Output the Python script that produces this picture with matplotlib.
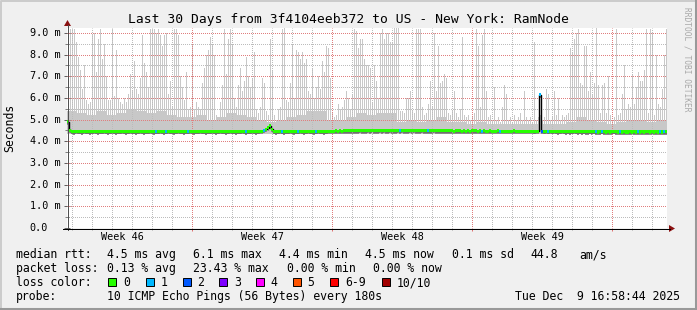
import matplotlib
matplotlib.use("Agg")
import matplotlib.pyplot as plt
from matplotlib.transforms import Affine2D, blended_transform_factory
from matplotlib.patches import Rectangle, Polygon
from matplotlib.lines import Line2D
import numpy as np

# ---------------- data ----------------
title = "Last 30 Days from 3f4104eeb372 to US - New York: RamNode"
week_labels = ["Week 46", "Week 47", "Week 48", "Week 49"]
week_label_days = [2.75, 9.75, 16.75, 23.75]
week_start_days = [6.25, 13.25, 20.25, 27.25]
day_lines = [0.25, 1.25, 2.25, 3.25, 4.25, 5.25, 6.25, 7.25, 8.25, 9.25,
             10.25, 11.25, 12.25, 13.25, 14.25, 15.25, 16.25, 17.25, 18.25, 19.25,
             20.25, 21.25, 22.25, 23.25, 24.25, 25.25, 26.25, 27.25, 28.25, 29.25]
y_major = [0, 1, 2, 3, 4, 5, 6, 7, 8, 9]
y_minor = [0.5, 1.5, 2.5, 3.5, 4.5, 5.5, 6.5, 7.5, 8.5]
y_tick_labels = ["0.0", "1.0 m", "2.0 m", "3.0 m", "4.0 m", "5.0 m",
                 "6.0 m", "7.0 m", "8.0 m", "9.0 m"]

# max ping (ms) per 2.4 h column (300 columns over 30 days)
smoke_max = [
    6.5, 9.2, 9.2, 9.2, 8.6, 7.9, 7.3, 6.4, 7.5, 5.9,
    5.7, 5.8, 8.9, 9.0, 7.2, 8.7, 9.2, 7.8, 8.5, 7.0,
    5.9, 5.9, 9.2, 6.1, 8.2, 6.0, 5.8, 5.7, 6.0, 5.8,
    6.2, 7.1, 6.3, 7.7, 6.4, 6.2, 6.9, 8.9, 7.6, 7.2,
    6.5, 9.2, 9.2, 9.2, 9.0, 9.2, 8.9, 8.4, 8.9, 9.0,
    6.2, 6.8, 5.6, 9.2, 9.2, 8.9, 7.0, 6.5, 5.9, 7.2,
    5.5, 5.6, 8.5, 5.5, 5.8, 5.6, 5.5, 6.7, 7.4, 8.0,
    8.2, 8.8, 8.5, 8.0, 5.2, 5.0, 5.8, 6.6, 9.2, 7.1,
    8.7, 9.2, 8.5, 6.0, 5.6, 6.6, 7.4, 6.3, 6.8, 7.9,
    7.0, 6.5, 6.9, 8.1, 5.5, 5.3, 5.6, 6.9, 6.7, 5.4,
    5.2, 8.7, 7.3, 5.2, 5.0, 5.5, 5.6, 9.2, 9.3, 5.9,
    5.8, 6.7, 8.5, 6.0, 8.2, 8.1, 7.8, 8.1, 7.6, 7.8,
    6.3, 6.2, 7.4, 6.0, 6.5, 7.0, 6.4, 7.7, 7.2, 8.4,
    8.3, 6.9, 5.3, 5.1, 5.2, 5.7, 5.5, 5.6, 5.9, 6.3,
    6.0, 5.5, 6.2, 9.2, 9.1, 8.3, 8.7, 8.7, 7.8, 7.5,
    7.5, 7.4, 5.8, 7.5, 6.8, 6.0, 9.0, 9.2, 8.7, 9.0,
    9.0, 8.6, 8.6, 9.3, 9.3, 9.3, 5.4, 5.4, 5.3, 6.0,
    6.0, 6.3, 5.4, 5.3, 9.2, 9.2, 9.2, 5.6, 5.2, 5.3,
    5.7, 6.8, 5.6, 9.0, 6.3, 8.4, 6.7, 6.8, 7.1, 6.9,
    5.3, 5.2, 5.4, 6.3, 5.3, 5.1, 5.5, 8.8, 5.2, 5.1,
    5.2, 5.0, 5.1, 5.3, 9.2, 8.4, 5.6, 8.9, 9.2, 6.3,
    5.1, 5.2, 5.0, 6.5, 5.0, 5.1, 4.9, 5.6, 6.6, 6.2,
    5.0, 5.1, 4.9, 5.2, 5.0, 5.1, 5.3, 5.0, 6.3, 5.1,
    5.0, 5.1, 4.9, 8.6, 5.0, 5.1, 5.2, 5.0, 5.1, 6.4,
    6.2, 5.0, 5.1, 6.3, 5.2, 6.0, 5.0, 5.2, 5.1, 5.2,
    5.3, 8.3, 8.1, 8.7, 9.0, 9.2, 6.7, 6.6, 8.4, 8.4,
    6.3, 7.2, 6.2, 6.7, 9.3, 6.6, 5.3, 6.6, 6.7, 5.3,
    7.0, 5.2, 5.0, 5.1, 9.2, 5.2, 5.3, 6.2, 7.5, 5.5,
    5.7, 5.6, 7.1, 5.7, 6.5, 7.2, 6.8, 6.8, 7.3, 9.2,
    5.3, 9.2, 9.0, 5.2, 8.0, 5.7, 5.6, 6.4, 8.0, 9.2,
]

# dense smoke level (ms) per half day (60 values)
smoke_base = [
    5.4, 5.3, 5.2, 5.4, 5.2, 5.3, 5.5, 5.4, 5.3, 5.4,
    5.2, 5.1, 5.1, 5.2, 5.0, 5.1, 5.3, 5.2, 5.1, 5.0,
    4.9, 5.0, 5.1, 5.2, 5.4, 5.4, 5.0, 5.0, 5.1, 5.3,
    5.2, 5.3, 5.3, 4.9, 5.0, 4.9, 5.0, 5.1, 4.9, 4.9,
    4.8, 4.9, 4.8, 4.8, 4.8, 4.8, 4.8, 4.8, 4.8, 4.8,
    4.9, 5.1, 5.0, 4.9, 4.8, 4.9, 5.0, 5.0, 4.9, 5.0,
]
smoke_floor = 4.35

# median rtt (ms) per column
median = [
    4.90, 4.50, 4.45, 4.44, 4.46, 4.45, 4.45, 4.44, 4.46, 4.45,
    4.45, 4.44, 4.45, 4.46, 4.45, 4.44, 4.45, 4.45, 4.46, 4.45,
    4.44, 4.45, 4.46, 4.45, 4.44, 4.45, 4.45, 4.46, 4.45, 4.44,
    4.45, 4.46, 4.45, 4.45, 4.44, 4.45, 4.46, 4.45, 4.44, 4.45,
    4.45, 4.46, 4.45, 4.44, 4.45, 4.45, 4.46, 4.45, 4.44, 4.45,
    4.46, 4.45, 4.45, 4.44, 4.45, 4.46, 4.45, 4.45, 4.44, 4.45,
    4.45, 4.46, 4.45, 4.44, 4.45, 4.45, 4.46, 4.45, 4.45, 4.44,
    4.45, 4.45, 4.46, 4.45, 4.44, 4.45, 4.46, 4.45, 4.45, 4.44,
    4.45, 4.46, 4.45, 4.45, 4.44, 4.45, 4.45, 4.46, 4.45, 4.44,
    4.45, 4.45, 4.46, 4.45, 4.44, 4.45, 4.46, 4.47, 4.50, 4.55,
    4.62, 4.72, 4.55, 4.45, 4.44, 4.45, 4.46, 4.45, 4.44, 4.45,
    4.45, 4.46, 4.45, 4.44, 4.45, 4.45, 4.46, 4.45, 4.44, 4.45,
    4.46, 4.45, 4.45, 4.44, 4.45, 4.46, 4.45, 4.45, 4.44, 4.45,
    4.46, 4.47, 4.46, 4.47, 4.48, 4.47, 4.48, 4.47, 4.48, 4.49,
    4.48, 4.49, 4.48, 4.49, 4.48, 4.49, 4.50, 4.49, 4.48, 4.49,
    4.50, 4.49, 4.50, 4.49, 4.48, 4.49, 4.50, 4.49, 4.50, 4.49,
    4.49, 4.50, 4.49, 4.48, 4.49, 4.50, 4.49, 4.50, 4.49, 4.48,
    4.49, 4.50, 4.49, 4.50, 4.49, 4.48, 4.49, 4.50, 4.49, 4.48,
    4.49, 4.48, 4.49, 4.50, 4.49, 4.48, 4.49, 4.48, 4.49, 4.48,
    4.48, 4.49, 4.48, 4.47, 4.48, 4.49, 4.48, 4.47, 4.48, 4.47,
    4.48, 4.47, 4.48, 4.49, 4.48, 4.47, 4.48, 4.47, 4.48, 4.47,
    4.47, 4.48, 4.47, 4.46, 4.47, 4.48, 4.47, 4.46, 4.47, 4.46,
    4.47, 4.46, 4.47, 4.48, 4.47, 4.46, 4.47, 4.46, 4.47, 4.46,
    4.46, 4.47, 4.46, 4.45, 4.46, 4.47, 6.15, 4.46, 4.45, 4.46,
    4.45, 4.46, 4.45, 4.46, 4.45, 4.44, 4.45, 4.46, 4.45, 4.44,
    4.45, 4.44, 4.45, 4.46, 4.45, 4.44, 4.45, 4.44, 4.45, 4.44,
    4.44, 4.45, 4.44, 4.45, 4.44, 4.43, 4.44, 4.45, 4.44, 4.43,
    4.44, 4.43, 4.44, 4.45, 4.44, 4.43, 4.44, 4.43, 4.44, 4.43,
    4.43, 4.44, 4.43, 4.44, 4.43, 4.44, 4.43, 4.44, 4.43, 4.44,
    4.44, 4.43, 4.44, 4.43, 4.44, 4.43, 4.44, 4.43, 4.44, 4.44,
]

# columns with packet loss and their loss level (index into loss_colors)
loss_cols = [44, 49, 60, 89, 98, 107, 115, 124, 166, 180,
             207, 216, 236, 237, 240, 264, 267, 276, 285, 296, 298]
loss_levels = [1, 1, 1, 1, 1, 1, 1, 1, 1, 1,
               1, 1, 1, 2, 1, 1, 1, 1, 1, 1, 1]

loss_colors = ["#26ff00", "#00b8ff", "#0059ff", "#7e00ff",
               "#ff00ff", "#ff5500", "#ff0000", "#a10000"]
loss_names = ["0", "1", "2", "3", "4", "5", "6-9", "10/10"]

legend_rtt = ["4.5 ms avg", "6.1 ms max", "4.4 ms min", "4.5 ms now",
              "0.1 ms sd", "44.8", "am/s"]
legend_loss = ["0.13 % avg", "23.43 % max", "0.00 % min", "0.00 % now"]
probe_text = "10 ICMP Echo Pings (56 Bytes) every 180s"
date_text = "Tue Dec  9 16:58:44 2025"

# ---------------- figure ----------------
W, H = 697, 310
MONO = "DejaVu Sans Mono"
fig = plt.figure(figsize=(W / 100, H / 100), dpi=100, facecolor="#f0f0f0")
px = Affine2D().scale(1.0 / W, -1.0 / H).translate(0, 1) + fig.transFigure

# border shading
fig.add_artist(Line2D([0.5, 0.5, W - 1], [H - 1, 0.5, 0.5], transform=px,
                      color="#cbcbcb", lw=1.4))
fig.add_artist(Line2D([1, W - 1.5, W - 1.5], [H - 1.5, H - 1.5, 1], transform=px,
                      color="#999999", lw=2.2))

ax = fig.add_axes([67 / W, 1 - 228 / H, 600 / W, 200 / H])
ax.set_facecolor("#ffffff")
ax.set_xlim(0, 30)
ax.set_ylim(0, 200 / 21.667)
for s in ax.spines.values():
    s.set_visible(False)

cols = np.arange(len(smoke_max)) * 0.1
smax = np.array(smoke_max)
sbase = np.array(smoke_base)
med = np.array(median)

smoke_color = "#c8c8c8"
# smoke
half = np.arange(len(smoke_base)) * 0.5
ax.bar(half, sbase - smoke_floor, bottom=smoke_floor, width=0.5, align="edge",
       color=smoke_color, linewidth=0, zorder=1)
ax.bar(cols + 0.05, smax - smoke_floor, bottom=smoke_floor, width=0.05,
       align="edge", color=smoke_color, linewidth=0, zorder=1.1)
# darker inner smoke just under the median
ax.bar(cols, 0.07, bottom=med - 0.13, width=0.1,
       align="edge", color="#8c8c8c", linewidth=0, zorder=1.2)

# grid (on top of smoke), 1px dots aligned to the pixel grid
gray_grid = "#bcbcbc"
red_grid = "#e07e7e"
dot = (0.5, (1, 1))
gkw = dict(lw=0.72, ls=dot, snap=True)
for d in day_lines:
    if d not in week_start_days:
        ax.axvline(d, color=gray_grid, zorder=1.5, **gkw)
for d in week_start_days:
    ax.axvline(d, color=red_grid, zorder=1.6, **gkw)
for v in y_minor:
    ax.axhline(v, color=gray_grid, zorder=1.5, **gkw)
for v in y_major[1:]:
    ax.axhline(v, color=red_grid, zorder=1.6, **gkw)

# median line and loss-coloured band
ax.plot(np.append(cols, 30), np.append(med, med[-1]), drawstyle="steps-post",
        color="#000000", lw=1.0, zorder=3)
band_colors = [loss_colors[0]] * len(median)
for c, lv in zip(loss_cols, loss_levels):
    band_colors[c] = loss_colors[lv]
ax.bar(cols, 0.14, bottom=med - 0.07, width=0.1, align="edge",
       color=band_colors, linewidth=0, zorder=4)

# ticks
ax.set_yticks(y_major)
ax.set_yticks(y_minor, minor=True)
ax.set_xticks(week_start_days)
ax.set_xticks(day_lines, minor=True)
ax.tick_params(axis="both", which="both", labelleft=False, labelbottom=False)
ax.tick_params(axis="y", which="major", direction="inout", length=4.3,
               width=0.72, color="#606060")
ax.tick_params(axis="y", which="minor", direction="inout", length=2.2,
               width=0.72, color="#808080")
ax.tick_params(axis="x", which="major", direction="out", length=2.2,
               width=0.72, color="#e07070")
ax.tick_params(axis="x", which="minor", direction="out", length=1.5,
               width=0.72, color="#a0a0a0")

# axes lines and arrows
fig.add_artist(Line2D([67.5, 67.5], [230, 25], transform=px, color="#505050",
                      lw=0.72, antialiased=False))
fig.add_artist(Line2D([63, 670], [228.5, 228.5], transform=px, color="#000000",
                      lw=0.72, antialiased=False))
fig.add_artist(Polygon([[64, 26], [71, 26], [67.5, 20]], closed=True, transform=px,
                       facecolor="#8b1010", edgecolor="none"))
fig.add_artist(Polygon([[669, 225], [669, 232], [675, 228.5]], closed=True, transform=px,
                       facecolor="#8b1010", edgecolor="none"))

# y tick labels
ytr = blended_transform_factory(fig.transFigure, ax.transData)
for v, lab in zip(y_major, y_tick_labels):
    ax.text(29.5 / W, v, lab, transform=ytr, ha="left", va="center",
            family=MONO, fontsize=7.3, color="#000000")

# week labels
xtr = blended_transform_factory(ax.transData, px)
for d, lab in zip(week_label_days, week_labels):
    ax.text(d, 237.5, lab, transform=xtr, ha="center", va="center",
            family=MONO, fontsize=7.3, color="#000000", clip_on=False)

# title, unit, watermark
fig.text(348, 19, title, transform=px, ha="center", va="center",
         family=MONO, fontsize=9.4, color="#000000")
fig.text(10, 128, "Seconds", transform=px, ha="center", va="center",
         rotation=90, family=MONO, fontsize=8.3, color="#000000")
fig.text(687, 59, "RRDTOOL / TOBI OETIKER", transform=px, ha="center", va="center",
         rotation=-90, family=MONO, fontsize=5.7, color="#a8a8a8")

# legend
lfs = 8.3
rows_y = [254.5, 268.5, 282.5, 296.5]
fig.text(16, rows_y[0], "median rtt:", transform=px, ha="left", va="center",
         family=MONO, fontsize=lfs)
for x, s in zip([107.3, 193.3, 279.3, 365, 451.7, 530, 579], legend_rtt):
    fig.text(x, rows_y[0], s, transform=px, ha="left", va="center",
             family=MONO, fontsize=lfs)
fig.text(16, rows_y[1], "packet loss:", transform=px, ha="left", va="center",
         family=MONO, fontsize=lfs)
for x, s in zip([107.3, 192.7, 286.7, 372.7], legend_loss):
    fig.text(x, rows_y[1], s, transform=px, ha="left", va="center",
             family=MONO, fontsize=lfs)
fig.text(16, rows_y[2], "loss color:", transform=px, ha="left", va="center",
         family=MONO, fontsize=lfs)
for x, col, name in zip([108, 145.7, 182.7, 219.3, 256, 292.7, 330, 381.7],
                        loss_colors, loss_names):
    fig.add_artist(Rectangle((x, 278), 8, 8, transform=px, facecolor=col,
                             edgecolor="#000000", lw=0.7))
    fig.text(x + 14.8, rows_y[2], name, transform=px, ha="left", va="center",
             family=MONO, fontsize=lfs)
fig.text(16, rows_y[3], "probe:", transform=px, ha="left", va="center",
         family=MONO, fontsize=lfs)
fig.text(107.3, rows_y[3], probe_text, transform=px, ha="left", va="center",
         family=MONO, fontsize=lfs)
fig.text(680, rows_y[3], date_text, transform=px, ha="right", va="center",
         family=MONO, fontsize=lfs)

fig.savefig("out.png", dpi=100, facecolor=fig.get_facecolor())
